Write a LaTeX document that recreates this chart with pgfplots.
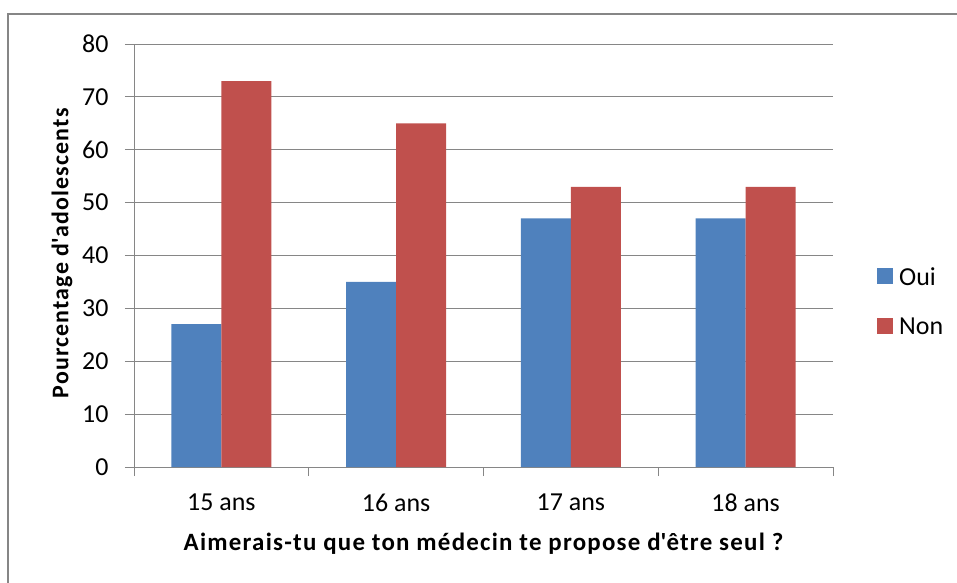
\documentclass[border=0pt]{standalone}
\usepackage{pgfplots}
\pgfplotsset{compat=1.18}
\usepackage{fontspec}
\setmainfont{Carlito}
\newfontfamily\labfont[LetterSpace=5]{Carlito}
\definecolor{oui}{HTML}{4F81BD}
\definecolor{non}{HTML}{C0504D}
\definecolor{gridc}{HTML}{868686}
\begin{document}
\begin{tikzpicture}
\begin{axis}[name=ax, anchor=origin, scale only axis,
  width=699bp, height=423bp,
  xmin=0, xmax=4, ymin=0, ymax=80,
  ytick={0,10,...,80},
  xtick={0.5,1.5,2.5,3.5},
  xticklabels={15 ans,16 ans,17 ans,18 ans},
  minor xtick={0,1,2,3,4},
  axis x line=bottom, axis y line=left,
  axis line style={-, gridc, line width=0.9bp},
  ymajorgrids, grid style={gridc, line width=0.9bp},
  tick align=outside,
  major tick length=9bp, minor tick length=9bp,
  x tick style={draw=none},
  minor x tick style={draw=gridc, line width=0.9bp},
  y tick style={gridc, line width=0.9bp},
  /pgf/number format/assume math mode=true,
  tick label style={font=\fontsize{26}{26}\selectfont, text=black},
  yticklabel style={xshift=-13bp},
  xticklabel style={yshift=-14bp},
  xlabel={Aimerais-tu que ton médecin te propose d\textquotesingle être seul ?},
  xlabel style={font=\labfont\fontsize{25}{25}\selectfont\bfseries, at={(axis description cs:0.5,-0.182)}, anchor=center},
  ylabel={Pourcentage d\textquotesingle adolescents},
  ylabel style={font=\labfont\fontsize{24}{24}\selectfont\bfseries, at={(axis description cs:-0.103,0.505)}, anchor=center},
  legend style={at={(axis description cs:1.063,0.39)}, anchor=west, draw=none, fill=none,
    font=\fontsize{26}{26}\selectfont, row sep=27bp, inner sep=0pt,
    nodes={inner xsep=6bp},
    /tikz/every even column/.append style={column sep=0bp}},
  legend cell align=left,
  legend image code/.code={\fill[#1] (0bp,-7bp) rectangle (16bp,9bp);},
]
\addplot[ybar, fill=oui, draw=none, bar width=50bp, bar shift=-25bp] coordinates {(0.5,27) (1.5,35) (2.5,47) (3.5,47)};
\addplot[ybar, fill=non, draw=none, bar width=50bp, bar shift=25bp] coordinates {(0.5,73) (1.5,65) (2.5,53) (3.5,53)};
\legend{Oui,Non}
\end{axis}
\pgfresetboundingbox
\path[use as bounding box] (ax.origin) ++(-134bp,-116bp) rectangle ++(957bp,583bp);
\draw[gridc, line width=2.5bp] (ax.origin) ++(-126bp,-120bp) -- ++(0,573bp) -- ++(955bp,0);
\end{tikzpicture}
\end{document}
